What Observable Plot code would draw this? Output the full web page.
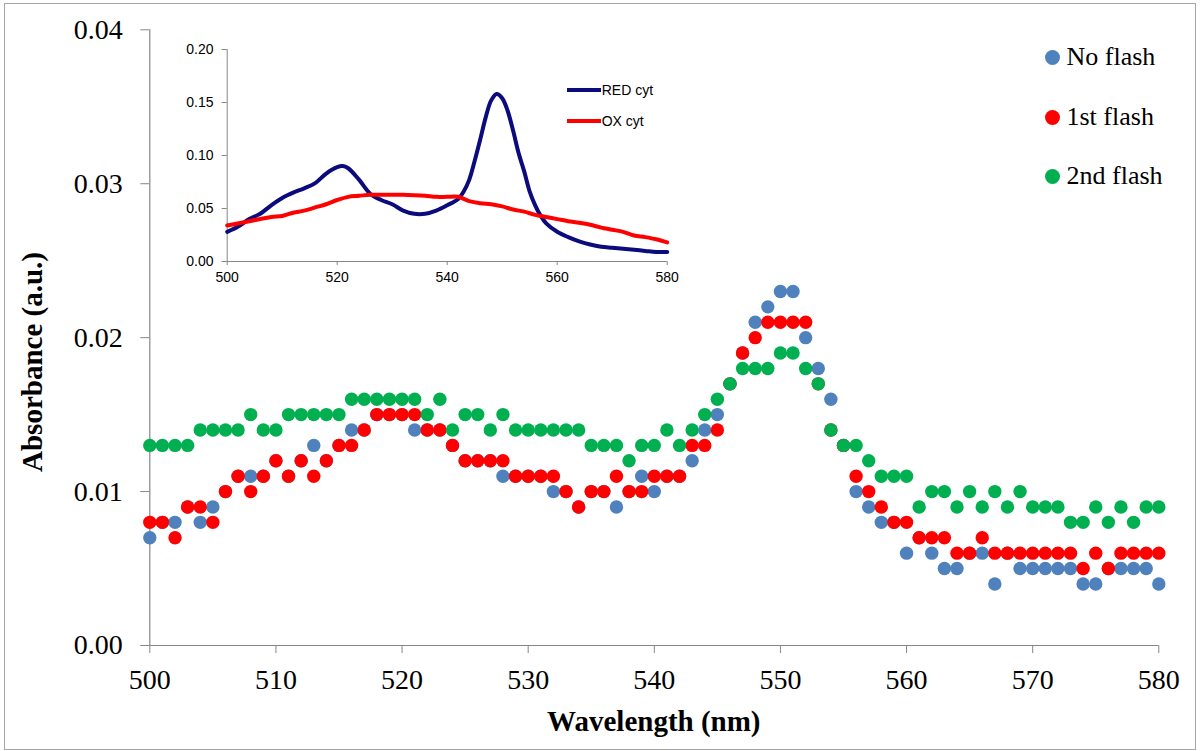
<!DOCTYPE html>
<html>
<head>
<meta charset="utf-8">
<script src="https://cdn.jsdelivr.net/npm/d3@7"></script>
<script src="https://cdn.jsdelivr.net/npm/@observablehq/plot@0.6"></script>
<style>
  html, body { margin: 0; padding: 0; background: white; }
  #wrap { position: relative; width: 1200px; height: 751px; overflow: hidden; background: white; }
  #wrap svg { position: absolute; }
  .frame { position: absolute; left: 4px; top: 3px; width: 1192px; height: 747px; box-sizing: border-box; border: 1.5px solid #a6a6a6; pointer-events: none; }
  .legend-row { position: absolute; display: flex; align-items: center; font-family: "Liberation Serif", serif; font-size: 26px; color: #000; white-space: nowrap; height: 30px; }
  .legend-row .sw { width: 15px; height: 15px; border-radius: 50%; margin-right: 7px; }
  .inset-leg { position: absolute; display: flex; align-items: center; font-family: "Liberation Sans", sans-serif; font-size: 14px; color: #000; white-space: nowrap; height: 16px; }
  .inset-leg .ln { width: 34px; height: 4px; margin-right: 1px; }
  .title { position: absolute; font-family: "Liberation Serif", serif; font-weight: bold; font-size: 29px; color: #000; white-space: nowrap; }
</style>
</head>
<body>
<div id="wrap"></div>
<script>
// ---- main chart data (absorbance, a.u.) ----
const wavelengths = [500,501,502,503,504,505,506,507,508,509,510,511,512,513,514,515,516,517,518,519,520,
  521,522,523,524,525,526,527,528,529,530,531,532,533,534,535,536,537,538,539,540,
  541,542,543,544,545,546,547,548,549,550,551,552,553,554,555,556,557,558,559,560,
  561,562,563,564,565,566,567,568,569,570,571,572,573,574,575,576,577,578,579,580];

const noFlash = [0.007,0.008,0.008,0.009,0.008,0.009,0.010,0.011,0.011,0.011,0.012,0.011,0.012,0.013,0.012,0.013,0.014,0.014,0.015,0.015,0.015,
  0.014,0.014,0.014,0.013,0.012,0.012,0.012,0.011,0.011,0.011,0.011,0.010,0.010,0.009,0.010,0.010,0.009,0.010,0.011,0.010,
  0.011,0.011,0.012,0.014,0.015,0.017,0.019,0.021,0.022,0.023,0.023,0.020,0.018,0.016,0.013,0.010,0.009,0.008,0.008,0.006,
  0.007,0.006,0.005,0.005,0.006,0.006,0.004,0.006,0.005,0.005,0.005,0.005,0.005,0.004,0.004,0.005,0.005,0.005,0.005,0.004];

const firstFlash = [0.008,0.008,0.007,0.009,0.009,0.008,0.010,0.011,0.010,0.011,0.012,0.011,0.012,0.011,0.012,0.013,0.013,0.014,0.015,0.015,0.015,
  0.015,0.014,0.014,0.013,0.012,0.012,0.012,0.012,0.011,0.011,0.011,0.011,0.010,0.009,0.010,0.010,0.011,0.010,0.010,0.011,
  0.011,0.011,0.013,0.013,0.014,0.017,0.019,0.020,0.021,0.021,0.021,0.021,0.017,0.014,0.013,0.011,0.010,0.009,0.008,0.008,
  0.007,0.007,0.007,0.006,0.006,0.007,0.006,0.006,0.006,0.006,0.006,0.006,0.006,0.005,0.006,0.005,0.006,0.006,0.006,0.006];

const secondFlash = [0.013,0.013,0.013,0.013,0.014,0.014,0.014,0.014,0.015,0.014,0.014,0.015,0.015,0.015,0.015,0.015,0.016,0.016,0.016,0.016,0.016,
  0.016,0.015,0.016,0.014,0.015,0.015,0.014,0.015,0.014,0.014,0.014,0.014,0.014,0.014,0.013,0.013,0.013,0.012,0.013,0.013,
  0.014,0.013,0.014,0.015,0.016,0.017,0.018,0.018,0.018,0.019,0.019,0.018,0.017,0.014,0.013,0.013,0.012,0.011,0.011,0.011,
  0.009,0.010,0.010,0.009,0.010,0.009,0.010,0.009,0.010,0.009,0.009,0.009,0.008,0.008,0.009,0.008,0.009,0.008,0.009,0.009];

const seriesNames = ["No flash", "1st flash", "2nd flash"];
const seriesColors = ["#4F81BD", "#FF0000", "#00B050"];
const xTicks = [500,510,520,530,540,550,560,570,580];
const yTicks = [0.00,0.01,0.02,0.03,0.04];

// ---- inset data ----
const redCytWl = [500,502,504,506,508,510,512,514,516,518,520,521,522,524,526,528,530,532,534,536,538,540,542,543,544,545,546,547,548,549,550,551,552,553,554,555,556,557,558,560,562,564,566,568,570,572,574,576,578,580];
const redCytAbs = [0.028,0.033,0.040,0.045,0.053,0.060,0.065,0.069,0.074,0.083,0.089,0.090,0.088,0.077,0.064,0.058,0.054,0.048,0.045,0.045,0.048,0.053,0.059,0.066,0.077,0.095,0.115,0.136,0.152,0.158,0.154,0.142,0.123,0.102,0.085,0.066,0.053,0.043,0.036,0.028,0.023,0.019,0.016,0.014,0.013,0.012,0.011,0.010,0.009,0.009];
const oxCytWl = [500,504,508,510,512,514,516,518,520,522,524,526,528,530,532,534,536,538,540,542,544,546,548,550,552,554,556,558,560,562,564,566,568,570,572,574,576,578,580];
const oxCytAbs = [0.034,0.038,0.042,0.043,0.046,0.048,0.051,0.054,0.058,0.061,0.062,0.063,0.063,0.063,0.063,0.0626,0.062,0.061,0.061,0.061,0.057,0.055,0.054,0.052,0.049,0.047,0.044,0.042,0.040,0.038,0.0365,0.0346,0.032,0.030,0.028,0.0245,0.023,0.021,0.018];
const insetNames = ["RED cyt", "OX cyt"];
const insetColors = ["#0B0B7D", "#FF0000"];
const insetXTicks = [500,520,540,560,580];
const insetYTicks = [0.00,0.05,0.10,0.15,0.20];

// ---- build tables ----
const seriesValues = [noFlash, firstFlash, secondFlash];
const tables = seriesValues.map((vals, k) => wavelengths.map((w, i) => ({w, v: vals[i], s: seriesNames[k]})));
const redCyt = redCytWl.map((w, i) => ({w, v: redCytAbs[i]}));
const oxCyt = oxCytWl.map((w, i) => ({w, v: oxCytAbs[i]}));

const axisGray = "#868686";
const wrap = document.getElementById("wrap");

const main = Plot.plot({
  width: 1200, height: 751,
  marginLeft: 149.3, marginRight: 41.7, marginTop: 29.3, marginBottom: 106,
  x: {domain: [500, 580], label: null},
  y: {domain: [0, 0.04], label: null},
  style: {fontFamily: "Liberation Serif, serif", background: "transparent", overflow: "visible"},
  marks: [
    Plot.ruleX([500], {stroke: axisGray, strokeWidth: 1.2}),
    Plot.ruleY([0], {stroke: axisGray, strokeWidth: 1.2}),
    Plot.axisY({ticks: yTicks, tickFormat: d3.format(".2f"), tickSize: 9, tickPadding: 18, fontSize: 28, stroke: axisGray, label: null}),
    Plot.axisX({ticks: xTicks, tickFormat: d3.format("d"), tickSize: 8, tickPadding: 15.5, fontSize: 28, stroke: axisGray, label: null}),
    ...tables.map((t, k) => Plot.dot(t, {x: "w", y: "v", r: 6.7, fill: seriesColors[k], stroke: null}))
  ]
});
main.style.left = "0px"; main.style.top = "0px";
wrap.appendChild(main);

const inset = Plot.plot({
  width: 520, height: 270,
  marginLeft: 56.7, marginRight: 23.3, marginTop: 19, marginBottom: 39,
  x: {domain: [500, 580], label: null},
  y: {domain: [0, 0.2], label: null},
  style: {fontFamily: "Liberation Sans, sans-serif", background: "transparent", overflow: "visible"},
  marks: [
    Plot.ruleX([500], {stroke: axisGray}),
    Plot.ruleY([0], {stroke: axisGray}),
    Plot.axisY({ticks: insetYTicks, tickFormat: d3.format(".2f"), tickSize: 5, tickPadding: 8.7, fontSize: 14, stroke: axisGray, label: null}),
    Plot.axisX({ticks: insetXTicks, tickFormat: d3.format("d"), tickSize: 4, tickPadding: 7, fontSize: 14, stroke: axisGray, label: null}),
    Plot.line(redCyt, {x: "w", y: "v", stroke: insetColors[0], strokeWidth: 4, curve: "catmull-rom"}),
    Plot.line(oxCyt, {x: "w", y: "v", stroke: insetColors[1], strokeWidth: 4, curve: "catmull-rom"})
  ]
});
inset.style.left = "170px"; inset.style.top = "30px";
wrap.appendChild(inset);

// inset legend
const insetLegTops = [82, 112.7];
insetNames.forEach((name, k) => {
  const row = document.createElement("div");
  row.className = "inset-leg";
  row.style.left = "566.7px";
  row.style.top = insetLegTops[k] + "px";
  row.innerHTML = `<span class="ln" style="background:${insetColors[k]}"></span><span>${name}</span>`;
  wrap.appendChild(row);
});

// main legend
const legTops = [42, 102, 161];
seriesNames.forEach((name, k) => {
  const row = document.createElement("div");
  row.className = "legend-row";
  row.style.left = "1044.5px";
  row.style.top = legTops[k] + "px";
  row.innerHTML = `<span class="sw" style="background:${seriesColors[k]}"></span><span>${name}</span>`;
  wrap.appendChild(row);
});

// axis titles
const xt = document.createElement("div");
xt.className = "title";
xt.textContent = "Wavelength (nm)";
xt.style.left = "653.8px"; xt.style.top = "721px";
xt.style.transform = "translate(-50%, -50%)";
wrap.appendChild(xt);

const yt = document.createElement("div");
yt.className = "title";
yt.textContent = "Absorbance (a.u.)";
yt.style.left = "32px"; yt.style.top = "362px";
yt.style.transform = "translate(-50%, -50%) rotate(-90deg)";
wrap.appendChild(yt);

const frame = document.createElement("div");
frame.className = "frame";
wrap.appendChild(frame);
</script>
</body>
</html>
